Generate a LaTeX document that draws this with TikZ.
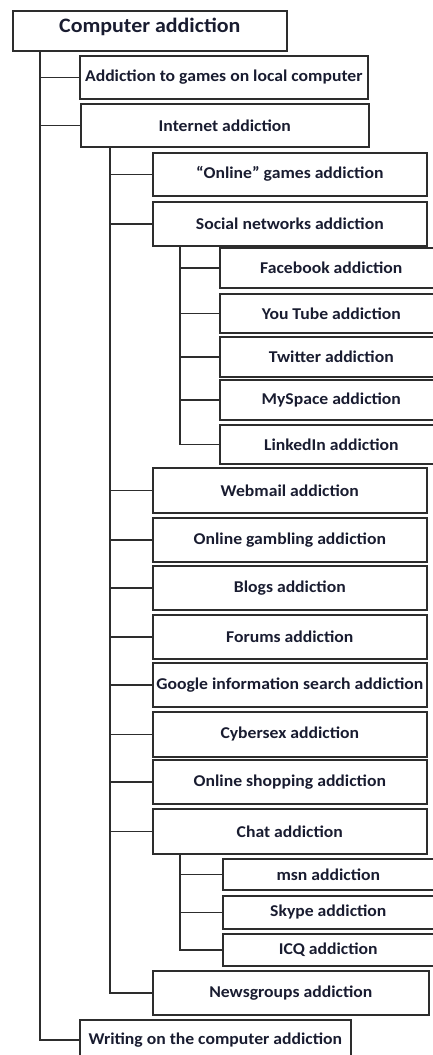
\documentclass[tikz,border=0pt]{standalone}
\usepackage{fontspec}
\setmainfont{Carlito}[FakeStretch=1.07]
\usetikzlibrary{positioning}
\definecolor{inkline}{RGB}{45,45,45}
\definecolor{inktext}{RGB}{25,28,48}

\begin{document}
\begin{tikzpicture}[x=1pt,y=-1pt,
  box/.style={draw=inkline,line width=1.6pt,anchor=north west,inner sep=0pt,
              text=inktext,font=\fontsize{16.5}{19}\selectfont\bfseries},
  lvlone/.style={box,minimum width=288pt,minimum height=43pt},
  lvltwo/.style={box,minimum width=274pt,minimum height=44pt},
  lvlthree/.style={box,minimum width=223pt,minimum height=40pt},
  lvlchat/.style={box,minimum width=211pt,minimum height=32pt},
  elbow/.style={to path={|- (\tikztotarget)}}]
\useasboundingbox (0,0) rectangle (432,1055);

\node[box,minimum width=274pt,minimum height=40pt,text depth=12pt,
      font=\fontsize{20.5}{24}\selectfont\bfseries] (comp) at (12,10) {Computer addiction};
\node[lvlone] (games)  at (79,55)  {Addiction to games on local computer};
\node[lvlone] (inet)   at (80,103) {Internet addiction};

\node[lvltwo,minimum height=43pt] (online) at (152,152) {``Online'' games addiction};
\node[lvltwo] (social) at (152,201) {Social networks addiction};

\node[lvlthree] (facebook) at (219,247) {Facebook addiction};
\node[lvlthree,minimum height=39pt] (youtube) at (219,293) {You Tube addiction};
\node[lvlthree] (twitter)  at (219,336) {Twitter addiction};
\node[lvlthree] (myspace)  at (219,379) {MySpace addiction};
\node[lvlthree,minimum height=39pt] (linkedin) at (219,424) {LinkedIn addiction};

\node[lvltwo,minimum height=45pt] (webmail) at (152,467) {Webmail addiction};
\node[lvltwo] (gambling) at (152,517) {Online gambling addiction};
\node[lvltwo] (blogs)    at (152,565) {Blogs addiction};
\node[lvltwo] (forums)   at (152,614) {Forums addiction};
\node[lvltwo] (google)   at (152,662) {Google information search addiction};
\node[lvltwo,minimum height=45pt] (cybersex) at (152,711) {Cybersex addiction};
\node[lvltwo] (shopping) at (152,759) {Online shopping addiction};
\node[lvltwo,minimum height=45pt] (chat) at (152,808) {Chat addiction};

\node[lvlchat,minimum height=31pt] (msn) at (222,858) {msn addiction};
\node[lvlchat,minimum height=33pt] (skype) at (222,895) {Skype addiction};
\node[lvlchat] (icq) at (222,933) {ICQ addiction};

\node[lvltwo,minimum width=276pt] (news) at (152,970) {Newsgroups addiction};
\node[lvlone,minimum width=271pt,minimum height=40pt] (writing) at (79,1019) {Writing on the computer addiction};

% trunks
\coordinate (mainx)   at (40,0);
\coordinate (inetx)   at (110,0);
\coordinate (socialx) at (180,0);
\coordinate (chatx)   at (180,0);

\path[draw=inkline,line width=1.6pt]
(mainx |- comp.south) edge[elbow] (games.west)
(mainx |- comp.south) edge[elbow] (inet.west)
(mainx |- comp.south) edge[elbow] (writing.west)

(inetx |- inet.south) edge[elbow] (online.west)
(inetx |- inet.south) edge[elbow] (social.west)
(inetx |- inet.south) edge[elbow] (webmail.west)
(inetx |- inet.south) edge[elbow] (gambling.west)
(inetx |- inet.south) edge[elbow] (blogs.west)
(inetx |- inet.south) edge[elbow] (forums.west)
(inetx |- inet.south) edge[elbow] (google.west)
(inetx |- inet.south) edge[elbow] (cybersex.west)
(inetx |- inet.south) edge[elbow] (shopping.west)
(inetx |- inet.south) edge[elbow] (chat.west)
(inetx |- inet.south) edge[elbow] (news.west)

(socialx |- social.south) edge[elbow] (facebook.west)
(socialx |- social.south) edge[elbow] (youtube.west)
(socialx |- social.south) edge[elbow] (twitter.west)
(socialx |- social.south) edge[elbow] (myspace.west)
(socialx |- social.south) edge[elbow] (linkedin.west)

(chatx |- chat.south) edge[elbow] (msn.west)
(chatx |- chat.south) edge[elbow] (skype.west)
(chatx |- chat.south) edge[elbow] (icq.west)
;
\end{tikzpicture}
\end{document}
